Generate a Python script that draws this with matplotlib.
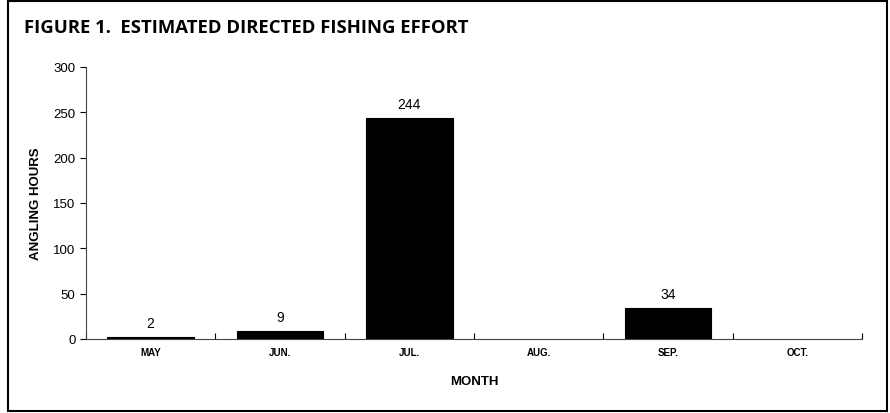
import matplotlib
matplotlib.use("Agg")
import matplotlib.pyplot as plt
from matplotlib.patches import Rectangle

months = ["MAY", "JUN.", "JUL.", "AUG.", "SEP.", "OCT."]
hours = [2, 9, 244, 0, 34, 0]
labels = ["2", "9", "244", "", "34", ""]

plt.rcParams['font.family'] = ['Liberation Sans', 'DejaVu Sans']

fig = plt.figure(figsize=(8.9, 4.14), dpi=100)
ax = fig.add_axes([86/890, 74/414, (862-86)/890, (340-68)/414])

x = list(range(len(months)))
bars = ax.bar(x, hours, width=0.67, color='black', edgecolor='black',
              linewidth=[0.8 if h > 0 else 0 for h in hours])
for xi, h, lab in zip(x, hours, labels):
    if lab:
        ax.text(xi, h + 8, lab, ha='center', va='bottom', fontsize=10)

ax.set_xlim(-0.5, len(months) - 0.5)
ax.set_ylim(0, 300)
ax.set_yticks([0, 50, 100, 150, 200, 250, 300])
ax.tick_params(axis='y', labelsize=9.5, length=4, direction='out', width=0.8)
ax.set_xticks(x)
ax.set_xticklabels(months, fontsize=7, fontweight='bold')
ax.tick_params(axis='x', length=0, pad=6)
ax.set_xticks([i + 0.5 for i in range(-1, len(months))], minor=True)
ax.tick_params(axis='x', which='minor', length=4, direction='in', width=0.8)
for s in ['top', 'right']:
    ax.spines[s].set_visible(False)
ax.spines['left'].set_color('#444444')
ax.spines['bottom'].set_color('#444444')

ax.set_ylabel("ANGLING HOURS", fontsize=9.5, fontweight='bold', labelpad=8)
ax.set_xlabel("MONTH", fontsize=9.5, fontweight='bold', labelpad=13)

fig.text(24/890, 1 - 28/414, "FIGURE 1.  ESTIMATED DIRECTED FISHING EFFORT",
         fontsize=13.3, fontweight='bold', family=['Open Sans', 'DejaVu Sans'],
         ha='left', va='center')

fig.patches.append(Rectangle((8/890, 2/414), (887-8)/890, (412-2)/414,
                             transform=fig.transFigure, fill=False,
                             edgecolor='black', linewidth=1.5))

fig.savefig("out.png", dpi=100)
